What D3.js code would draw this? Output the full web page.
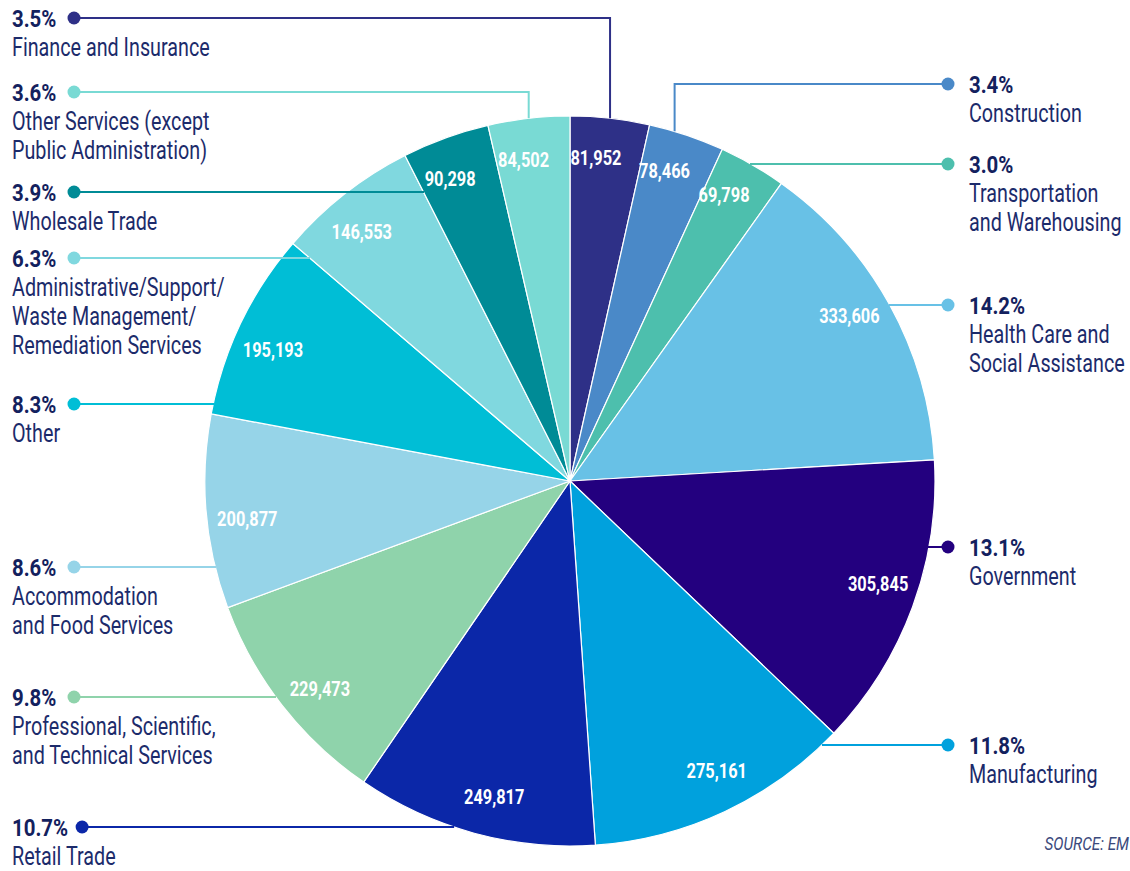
<!DOCTYPE html>
<html>
<head>
<meta charset="utf-8">
<script src="https://cdn.jsdelivr.net/npm/d3@7"></script>
<style>
  body { margin: 0; background: #fff; }
  svg { display: block; }
  text { font-family: Roboto, "Liberation Sans", sans-serif; }
</style>
</head>
<body>
<div class="chart"></div>
<script>
const categories = [
  'Finance and Insurance', 'Construction', 'Transportation and Warehousing',
  'Health Care and Social Assistance', 'Government', 'Manufacturing', 'Retail Trade',
  'Professional, Scientific, and Technical Services', 'Accommodation and Food Services',
  'Other', 'Administrative/Support/Waste Management/Remediation Services',
  'Wholesale Trade', 'Other Services (except Public Administration)'
]
const values = [81952, 78466, 69798, 333606, 305845, 275161, 249817, 229473, 200877, 195193, 146553, 90298, 84502]
const pctLabels = ['3.5%', '3.4%', '3.0%', '14.2%', '13.1%', '11.8%', '10.7%', '9.8%', '8.6%', '8.3%', '6.3%', '3.9%', '3.6%']
const nameLines = [
  ['Finance and Insurance'],
  ['Construction'],
  ['Transportation', 'and Warehousing'],
  ['Health Care and', 'Social Assistance'],
  ['Government'],
  ['Manufacturing'],
  ['Retail Trade'],
  ['Professional, Scientific,', 'and Technical Services'],
  ['Accommodation', 'and Food Services'],
  ['Other'],
  ['Administrative/Support/', 'Waste Management/', 'Remediation Services'],
  ['Wholesale Trade'],
  ['Other Services (except', 'Public Administration)']
]
const colors = ['#2e3087', '#4a89c8', '#4dbfad', '#68c1e6', '#23007f', '#00a1dd', '#0b27a8',
  '#8fd3ab', '#96d4e8', '#00bed6', '#80d8df', '#008b96', '#79dad4']

// callout layout (style, not data)
const labelSide = ['L', 'R', 'R', 'R', 'R', 'R', 'L', 'L', 'L', 'L', 'L', 'L', 'L']
const labelY = [18, 84, 164, 305, 547, 745, 827, 697, 567, 404, 258, 192, 92]
const labelElbow = [true, true, false, false, false, false, false, false, false, false, false, false, true]

const width = 1130
const height = 871
const cx = 570
const cy = 481
const radius = 365
const textColor = '#1c2b6b'

const svg = d3.select('.chart')
  .append('svg')
  .attr('width', width)
  .attr('height', height)

// condensed look: squeeze text horizontally around its anchor
function squeeze(sel, x, y, sx) {
  return sel.attr('transform', `translate(${x},${y}) scale(${sx},1)`)
}

const pie = d3.pie().sort(null).value(d => d)
const arcs = pie(values)
const arc = d3.arc().innerRadius(0).outerRadius(radius)

const g = svg.append('g').attr('transform', `translate(${cx},${cy})`)

g.selectAll('path')
  .data(arcs)
  .enter()
  .append('path')
  .attr('d', arc)
  .attr('fill', (_, i) => colors[i])
  .attr('stroke', '#fff')
  .attr('stroke-width', 1.2)
  .attr('stroke-linejoin', 'round')

// value labels inside slices
g.selectAll('text.val')
  .data(arcs)
  .enter()
  .append('text')
  .attr('class', 'val')
  .each(function (d) {
    const a = (d.startAngle + d.endAngle) / 2 - 0.03
    const r = radius * 0.89
    squeeze(d3.select(this), r * Math.sin(a), -r * Math.cos(a), 0.78)
  })
  .attr('text-anchor', 'middle')
  .attr('dy', '0.35em')
  .attr('fill', '#fff')
  .attr('font-weight', 'bold')
  .attr('font-size', 21)
  .text(d => d3.format(',')(d.value))

// does point (x,y) (relative to center) fall inside slice d
function inSlice(d, x, y) {
  if (Math.hypot(x, y) > radius) return false
  let a = Math.atan2(x, -y)
  if (a < 0) a += 2 * Math.PI
  return a >= d.startAngle && a <= d.endAngle
}

const callouts = svg.append('g')

arcs.forEach((d, i) => {
  const y = labelY[i]
  const left = labelSide[i] === 'L'
  const grp = callouts.append('g')
  const textX = left ? 12 : 969

  const pct = grp.append('text')
    .attr('dy', '0.36em')
    .attr('font-weight', 'bold')
    .attr('font-size', 24)
    .attr('fill', '#13215e')
    .text(pctLabels[i])
  squeeze(pct, textX, y, 0.85)

  let dotX
  if (left) {
    dotX = Math.max(74, textX + pct.node().getComputedTextLength() * 0.85 + 14)
  } else {
    dotX = 948
  }

  nameLines[i].forEach((line, k) => {
    const t = grp.append('text')
      .attr('dy', '0.35em')
      .attr('font-size', 25)
      .attr('fill', textColor)
      .text(line)
    squeeze(t, textX, y + 29.2 * (k + 1), 0.79)
  })

  let points
  if (labelElbow[i]) {
    const a = (d.startAngle + d.endAngle) / 2
    const ex = radius * Math.sin(a) - (left ? 0 : 12)
    const ey = -Math.sqrt(radius * radius - ex * ex)
    points = [[dotX, y], [cx + ex, y], [cx + ex, cy + ey]]
  } else {
    const step = left ? 1 : -1
    let x = dotX
    while (!inSlice(d, x - cx, y - cy) && Math.abs(x - cx) > 0) x += step
    points = [[dotX, y], [x, y]]
  }

  grp.insert('path', 'text')
    .attr('d', d3.line()(points))
    .attr('fill', 'none')
    .attr('stroke', colors[i])
    .attr('stroke-width', 2)

  grp.append('circle')
    .attr('cx', dotX)
    .attr('cy', y)
    .attr('r', 6.5)
    .attr('fill', colors[i])
})

squeeze(svg.append('text'), 1129, 850, 0.85)
  .attr('text-anchor', 'end')
  .attr('font-style', 'italic')
  .attr('font-size', 18)
  .attr('fill', '#3b4a7c')
  .text('SOURCE: EM')
</script>
</body>
</html>
